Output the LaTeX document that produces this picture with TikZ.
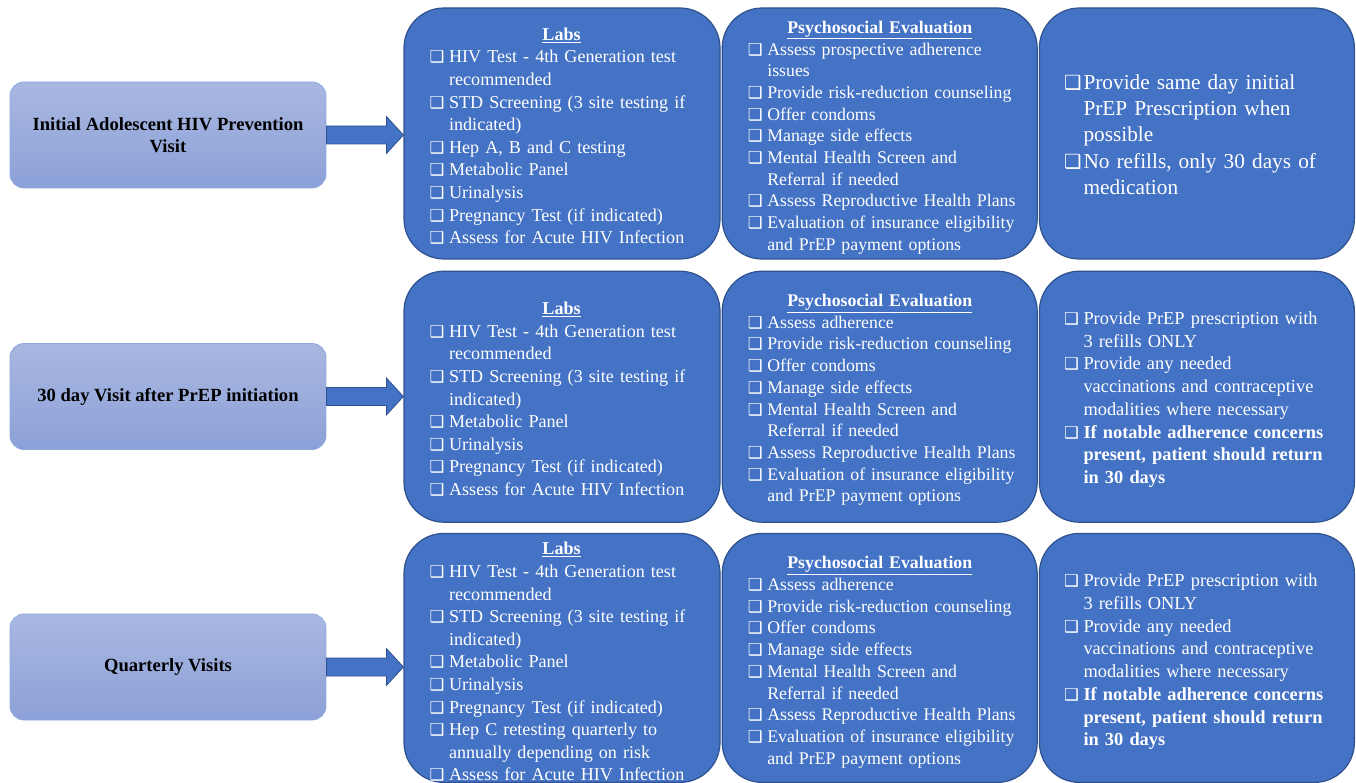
\documentclass[tikz,border=0pt]{standalone}
\usepackage{fontspec}
\setmainfont{Liberation Serif}
\newfontfamily\symfont{DejaVu Sans}
\usepackage{xcolor}
\usepackage{tikz}
\usetikzlibrary{positioning,calc}
\definecolor{pblue}{HTML}{4472C4}
\definecolor{pedge}{HTML}{2F528F}
\definecolor{vtop}{HTML}{A9B8E1}
\definecolor{vbot}{HTML}{8CA1D8}
\definecolor{vedge}{HTML}{8EA9DB}

% checkbox items with hanging indent
\newlength\ckind \setlength\ckind{19.5pt}
\def\cksz{16.5}
\newcommand\cbx{{\symfont\fontsize{\cksz}{\cksz}\selectfont\char"2751}}
\newcommand\ckf{\noindent\hangindent=\ckind\hangafter=1\makebox[\ckind][l]{\cbx}}
\newcommand\ck{\par\ckf}
\newcommand\hd[1]{\noindent\hspace*{132pt}\makebox[0pt]{\underline{\textbf{#1}}}\par}
\let\nl\newline

\begin{document}
\begin{tikzpicture}[x=1pt, y=-1pt,
  visit/.style={draw=vedge, top color=vtop, bottom color=vbot, rounded corners=14pt, line width=0.8pt,
    minimum width=316pt, minimum height=106pt, align=center, inner sep=0pt,
    font=\fontsize{18.6}{22}\selectfont\bfseries},
  card/.style={draw=pedge, fill=pblue, rounded corners=40pt, line width=1.2pt, inner sep=0pt,
    minimum width=315pt, minimum height=251pt},
  lst/.style={text=white, anchor=base west, align=left, text width=300pt, inner sep=0pt,
    font=\fontsize{18.1}{22.6}\selectfont},
  psl/.style={lst, font=\fontsize{17.8}{21.7}\selectfont},
  rxl/.style={lst, font=\fontsize{18.4}{22.7}\selectfont},
  barr/.style={draw=pedge, fill=pblue, line width=0.8pt}]

\useasboundingbox (0,0) rectangle (1356,783);

% --- the three rows of cards ---
\node[card, minimum width=316pt] (lab1) at (562,133.5) {};
\node[card, right=1pt of lab1] (psy1) {};
\node[card, right=1pt of psy1] (rx1) {};
\node[card, minimum width=316pt, below=11pt of lab1] (lab2) {};
\node[card, right=1pt of lab2] (psy2) {};
\node[card, right=1pt of psy2] (rx2) {};
\node[card, minimum width=316pt, minimum height=249pt, below=10pt of lab2] (lab3) {};
\node[card, minimum height=249pt, right=1pt of lab3] (psy3) {};
\node[card, minimum height=249pt, right=1pt of psy3] (rx3) {};

% --- visit boxes on the left ---
\node[visit] (v1) at (168,135) {Initial Adolescent HIV Prevention\\Visit};
\node[visit] (v2) at (168,396.5) {30 day Visit after PrEP initiation};
\node[visit] (v3) at (168,667) {Quarterly Visits};

% block arrows
\draw[barr] ($(v1.east)+(0,-9)$) -- ($(v1.east -| lab1.west)+(-17,-9)$) -- ($(v1.east -| lab1.west)+(-17,-18.5)$)
  -- (v1.east -| lab1.west) -- ($(v1.east -| lab1.west)+(-17,18.5)$) -- ($(v1.east -| lab1.west)+(-17,9)$) -- ($(v1.east)+(0,9)$) -- cycle;
\draw[barr] ($(v2.east)+(0,-9)$) -- ($(v2.east -| lab2.west)+(-17,-9)$) -- ($(v2.east -| lab2.west)+(-17,-18.5)$)
  -- (v2.east -| lab2.west) -- ($(v2.east -| lab2.west)+(-17,18.5)$) -- ($(v2.east -| lab2.west)+(-17,9)$) -- ($(v2.east)+(0,9)$) -- cycle;
\draw[barr] ($(v3.east)+(0,-9)$) -- ($(v3.east -| lab3.west)+(-17,-9)$) -- ($(v3.east -| lab3.west)+(-17,-18.5)$)
  -- (v3.east -| lab3.west) -- ($(v3.east -| lab3.west)+(-17,18.5)$) -- ($(v3.east -| lab3.west)+(-17,9)$) -- ($(v3.east)+(0,9)$) -- cycle;

% --- row 1 ---
\node[lst] (t11) at ($(lab1.north west)+(26,33)$) {\hd{Labs}
  \ck HIV Test - 4th Generation test\nl recommended
  \ck STD Screening (3 site testing if\nl indicated)
  \ck Hep A, B and C testing
  \ck Metabolic Panel
  \ck Urinalysis
  \ck Pregnancy Test (if indicated)
  \ck Assess for Acute HIV Infection\par};
\node[psl] (t12) at ($(psy1.north west)+(26,26)$) {\hd{Psychosocial Evaluation}
  \ck Assess prospective adherence\nl issues
  \ck Provide risk-reduction counseling
  \ck Offer condoms
  \ck Manage side effects
  \ck Mental Health Screen and\nl Referral if needed
  \ck Assess Reproductive Health Plans
  \ck Evaluation of insurance eligibility\nl and PrEP payment options\par};
\node[lst, font={\fontsize{21.3}{26.3}\selectfont\def\cksz{19.5}}] (t13) at ($(rx1.north west)+(25,82)$) {%
  \ckf Provide same day initial\nl PrEP Prescription when\nl possible
  \ck No refills, only 30 days of\nl medication\par};

% --- row 2 ---
\node[lst] (t21) at ($(lab2.north west)+(26,44)$) {\hd{Labs}
  \ck HIV Test - 4th Generation test\nl recommended
  \ck STD Screening (3 site testing if\nl indicated)
  \ck Metabolic Panel
  \ck Urinalysis
  \ck Pregnancy Test (if indicated)
  \ck Assess for Acute HIV Infection\par};
\node[psl] (t22) at ($(psy2.north west)+(26,36)$) {\hd{Psychosocial Evaluation}
  \ck Assess adherence
  \ck Provide risk-reduction counseling
  \ck Offer condoms
  \ck Manage side effects
  \ck Mental Health Screen and\nl Referral if needed
  \ck Assess Reproductive Health Plans
  \ck Evaluation of insurance eligibility\nl and PrEP payment options\par};
\node[rxl] (t23) at ($(rx2.north west)+(25,54)$) {%
  \ckf Provide PrEP prescription with\nl 3 refills ONLY
  \ck Provide any needed\nl vaccinations and contraceptive\nl modalities where necessary
  \ck {\bfseries If notable adherence concerns\nl present, patient should return\nl in 30 days}\par};

% --- row 3 ---
\node[lst] (t31) at ($(lab3.north west)+(26,22)$) {\hd{Labs}
  \ck HIV Test - 4th Generation test\nl recommended
  \ck STD Screening (3 site testing if\nl indicated)
  \ck Metabolic Panel
  \ck Urinalysis
  \ck Pregnancy Test (if indicated)
  \ck Hep C retesting quarterly to\nl annually depending on risk
  \ck Assess for Acute HIV Infection\par};
\node[psl] (t32) at ($(psy3.north west)+(26,36)$) {\hd{Psychosocial Evaluation}
  \ck Assess adherence
  \ck Provide risk-reduction counseling
  \ck Offer condoms
  \ck Manage side effects
  \ck Mental Health Screen and\nl Referral if needed
  \ck Assess Reproductive Health Plans
  \ck Evaluation of insurance eligibility\nl and PrEP payment options\par};
\node[rxl] (t33) at ($(rx3.north west)+(25,54)$) {%
  \ckf Provide PrEP prescription with\nl 3 refills ONLY
  \ck Provide any needed\nl vaccinations and contraceptive\nl modalities where necessary
  \ck {\bfseries If notable adherence concerns\nl present, patient should return\nl in 30 days}\par};
\end{tikzpicture}
\end{document}
